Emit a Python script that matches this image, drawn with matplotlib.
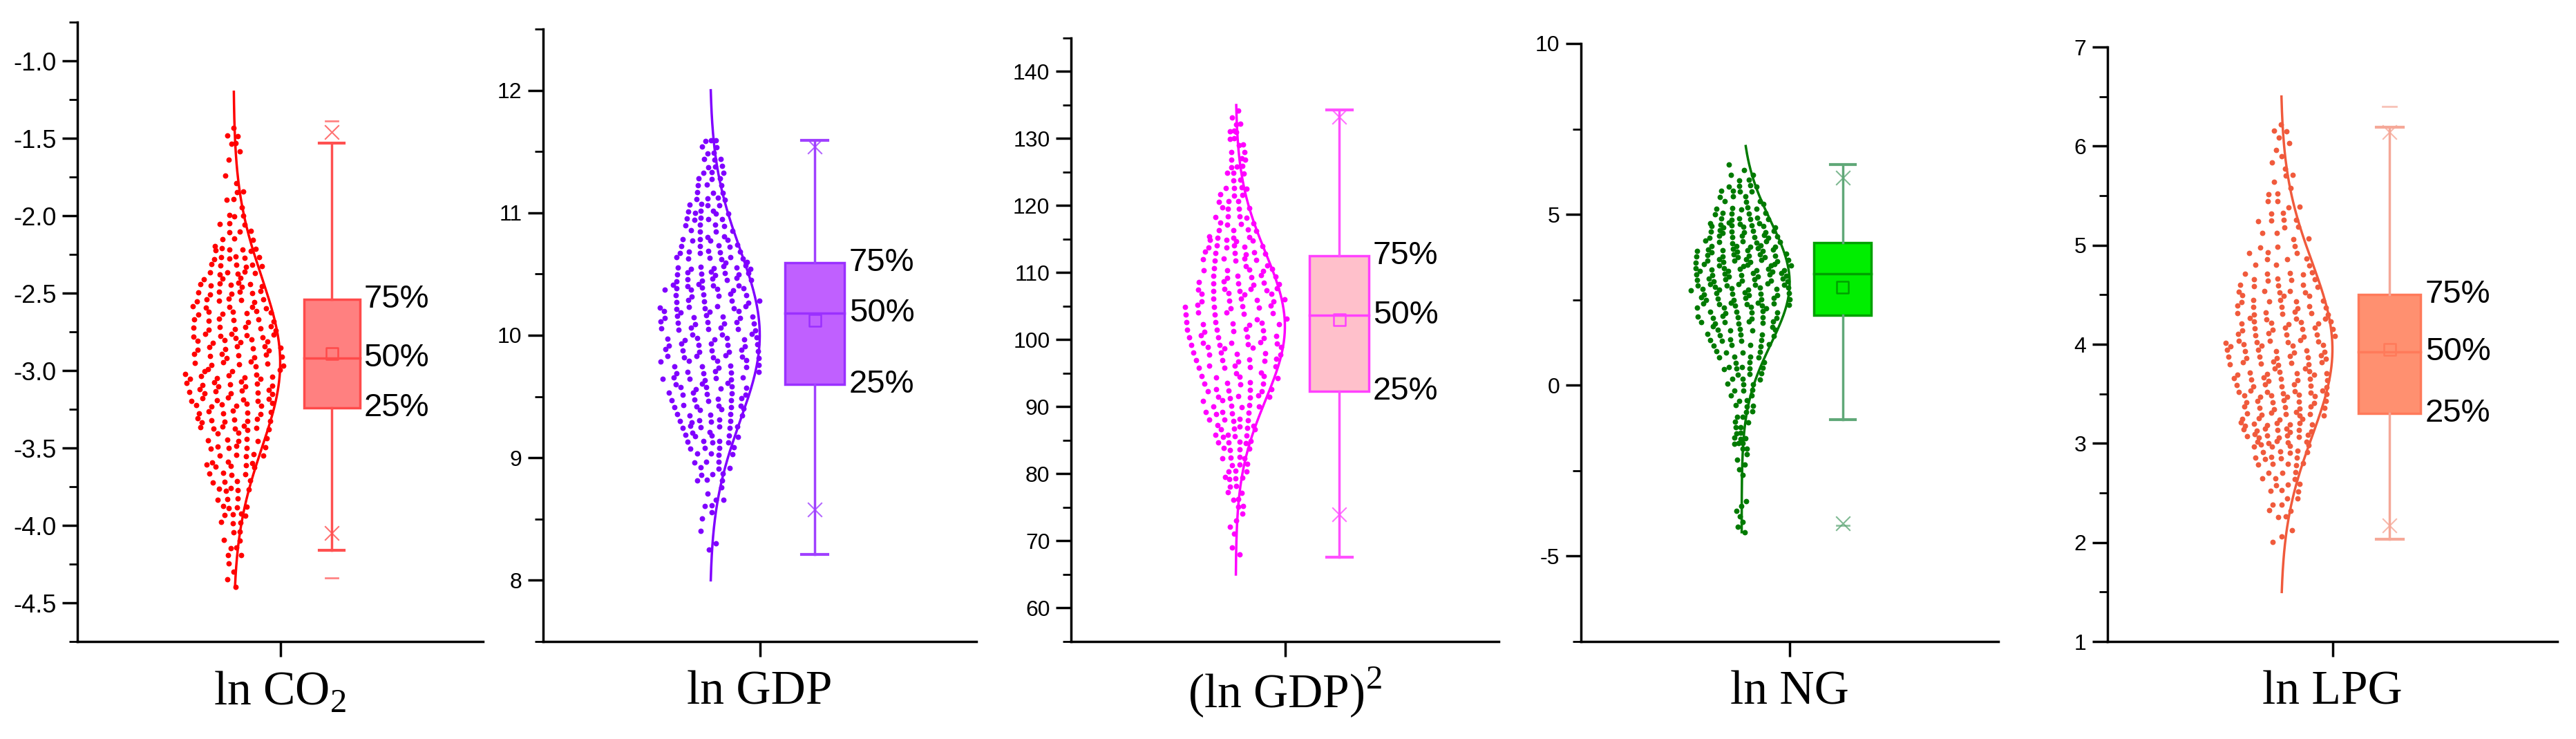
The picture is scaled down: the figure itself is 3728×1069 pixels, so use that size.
import numpy as np
import matplotlib
matplotlib.use("Agg")
import matplotlib.pyplot as plt

plt.rcParams['font.family'] = ['Liberation Sans', 'DejaVu Sans']
plt.rcParams['mathtext.fontset'] = 'custom'
plt.rcParams['mathtext.rm'] = 'Liberation Serif'

# variable names
labels = [r"ln CO$_2$", "ln GDP", r"(ln GDP)$^2$", "ln NG", "ln LPG"]

# histogram of the scattered observations (bin lower edge, bin size, counts)
bin_lo = [-4.4, 8.2, 67, -4.3, 2.0]
bin_step = [0.2, 0.2, 4, 0.6, 0.25]
counts = [
    [4, 8, 14, 18, 22, 30, 36, 32, 30, 30, 24, 12, 6, 3, 6],
    [2, 3, 6, 12, 18, 22, 24, 26, 28, 28, 26, 30, 22, 18, 14, 12, 10],
    [2, 4, 8, 14, 18, 20, 22, 24, 26, 26, 26, 24, 16, 14, 10, 8, 6],
    [4, 3, 1, 4, 10, 8, 10, 12, 14, 20, 26, 34, 38, 40, 30, 22, 14, 6],
    [3, 8, 12, 20, 32, 30, 30, 30, 28, 26, 20, 12, 8, 8, 6, 4, 5],
]

# normal curve parameters
curve_mean = [-2.95, 10.0, 102, 3.0, 3.95]
curve_sd = [0.55, 0.7, 11, 1.8, 0.88]
curve_lo = [-4.4, 8.0, 65, -4.3, 1.5]
curve_hi = [-1.2, 12.0, 135, 7.0, 6.5]

# box statistics
q1 = [-3.24, 9.60, 92.3, 2.04, 3.30]
med = [-2.92, 10.18, 103.7, 3.27, 3.92]
q3 = [-2.54, 10.59, 112.5, 4.17, 4.50]
mean = [-2.89, 10.12, 103.0, 2.87, 3.95]
whis_lo = [-4.16, 8.21, 67.6, -1.01, 2.03]
whis_hi = [-1.53, 11.59, 134.3, 6.46, 6.19]
p1 = [-4.05, 8.58, 74.0, -4.05, 2.17]
p99 = [-1.46, 11.54, 133.2, 6.08, 6.14]
vmin = [-4.34, 8.21, 67.6, -4.1, 2.03]
vmax = [-1.39, 11.59, 134.3, 6.46, 6.40]

ylims = [(-4.75, -0.75), (7.5, 12.5), (55, 145), (-7.5, 10), (1, 7)]
yticks = [np.arange(-4.5, -0.9, 0.5), np.arange(8, 12.1, 1), np.arange(60, 141, 10),
          np.arange(-5, 10.1, 5), np.arange(1, 7.1, 1)]
show_pct = [True, True, True, False, True]

pt_color = ['#ff0000', '#8000ff', '#ff00ff', '#007a00', '#f05a3c']
box_face = ['#ff8080', '#c060ff', '#ffc0cb', '#00ee00', '#ff9070']
box_edge = ['#ff4a4a', '#9a30ff', '#ff40ff', '#00a000', '#ff7a5a']
whis_col = ['#ff5050', '#a040ff', '#ff50ff', '#60a878', '#f5a898']

# axes boxes in pixels: left, right, top
px_left = [112, 786, 1550, 2288, 3050]
px_right = [699, 1413, 2169, 2892, 3701]
px_top = [32, 42, 55, 63, 68]
px_bottom = 928
W, H = 3728, 1069

fig = plt.figure(figsize=(W / 100, H / 100), dpi=100)
base, bx, wid, bw = 0.385, 0.627, 0.115, 0.138
a1, a2 = 0.7548776662, 0.5698402910  # quasi-uniform layout sequence

for i in range(5):
    ax = fig.add_axes([px_left[i] / W, 1 - px_bottom / H,
                       (px_right[i] - px_left[i]) / W, (px_bottom - px_top[i]) / H])
    for s in ['top', 'right']:
        ax.spines[s].set_visible(False)
    for s in ['left', 'bottom']:
        ax.spines[s].set_linewidth(2.5)

    # scattered points spread around the curve base line
    ys, us = [], []
    k = 0
    for j, c in enumerate(counts[i]):
        for m in range(c):
            ys.append(bin_lo[i] + bin_step[i] * (j + ((0.5 + k * a1) % 1)))
            us.append(((0.5 + k * a2 + 0.37 * i) % 1) * 2 - 1)
            k += 1
    ys, us = np.array(ys), np.array(us)
    dens = np.exp(-0.5 * ((ys - curve_mean[i]) / curve_sd[i]) ** 2)
    ax.scatter(base + wid * (0.12 + 0.95 * dens) * us, ys, s=32, color=pt_color[i],
               lw=0, zorder=3)

    yy = np.linspace(curve_lo[i], curve_hi[i], 300)
    cx = base + wid * np.exp(-0.5 * ((yy - curve_mean[i]) / curve_sd[i]) ** 2)
    ax.plot(cx, yy, color=pt_color[i], lw=2.5, zorder=4)

    # box
    ax.add_patch(plt.Rectangle((bx - bw / 2, q1[i]), bw, q3[i] - q1[i],
                               facecolor=box_face[i], edgecolor=box_edge[i], lw=2.5, zorder=2))
    ax.plot([bx - bw / 2, bx + bw / 2], [med[i]] * 2, color=box_edge[i], lw=2.5, zorder=3)
    ax.plot([bx, bx], [q3[i], whis_hi[i]], color=whis_col[i], lw=2.5)
    ax.plot([bx, bx], [whis_lo[i], q1[i]], color=whis_col[i], lw=2.5)
    for v in [whis_lo[i], whis_hi[i]]:
        ax.plot([bx - 0.03, bx + 0.03], [v, v], color=whis_col[i], lw=3)
    for v in [vmin[i], vmax[i]]:
        ax.plot([bx - 0.015, bx + 0.015], [v, v], color=whis_col[i], lw=2, alpha=0.7)
    ax.scatter([bx, bx], [p1[i], p99[i]], marker='x', s=220, color=whis_col[i], lw=1.5,
               alpha=0.8, zorder=4)
    ax.scatter([bx], [mean[i]], marker='s', s=150, facecolor='none',
               edgecolor=box_edge[i], lw=1.8, zorder=4)

    if show_pct[i]:
        for v, t in zip([q3[i], med[i], q1[i]], ['75%', '50%', '25%']):
            ax.text(bx + bw / 2 + 0.01, v, t, fontsize=34, va='center', ha='left')

    step = yticks[i][1] - yticks[i][0]
    ax.set_yticks(yticks[i])
    if i == 0:
        ax.set_yticklabels([f"{v:.1f}" for v in yticks[i]])
    else:
        ax.set_yticklabels([f"{v:g}" for v in yticks[i]])
    ax.set_yticks(np.append(yticks[i] - step / 2, yticks[i][-1] + step / 2), minor=True)
    ax.tick_params(axis='y', which='major', length=16, width=2.5,
                   labelsize=26 if i == 0 else 23, pad=6)
    ax.tick_params(axis='y', which='minor', length=9, width=2)
    ax.set_xticks([0.5])
    ax.set_xticklabels([''])
    ax.tick_params(axis='x', length=16, width=2.5)
    ax.set_xlim(0, 1)
    ax.set_ylim(*ylims[i])

    fig.text((px_left[i] + px_right[i]) / 2 / W, 1 - 1002 / H, labels[i],
             ha='center', va='center', fontsize=50, family='Liberation Serif')

fig.savefig("out.png", dpi=100)
